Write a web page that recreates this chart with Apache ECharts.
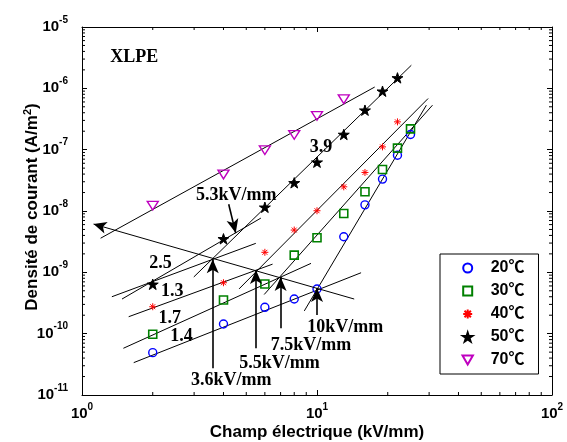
<!DOCTYPE html>
<html>
<head>
<meta charset="utf-8">
<script src="https://cdn.jsdelivr.net/npm/echarts@6/dist/echarts.min.js"></script>
<style>
  html, body { margin: 0; padding: 0; background: #fff; }
  #chart { width: 567px; height: 442px; }
</style>
</head>
<body>
<div id="chart"></div>
<script>
// Applied electric field (kV/mm)
const fieldKV = [2, 4, 6, 8, 10, 13, 16, 19, 22, 25];

// Measured current density (A/m^2) for each temperature
const j20 = [4.9e-11, 1.44e-10, 2.69e-10, 3.67e-10, 5.35e-10, 3.8e-9, 1.26e-8, 3.31e-8, 8.1e-8, 1.77e-7];
const j30 = [9.8e-11, 3.54e-10, 6.45e-10, 1.91e-9, 3.66e-9, 9.1e-9, 2.06e-8, 4.76e-8, 1.06e-7, 2.18e-7];
const j40 = [2.75e-10, 6.77e-10, 2.12e-9, 4.89e-9, 1.01e-8, 2.48e-8, 4.25e-8, 1.11e-7, 2.84e-7];
const j50 = [6.38e-10, 3.52e-9, 1.15e-8, 2.88e-8, 6.25e-8, 1.77e-7, 4.4e-7, 8.97e-7, 1.48e-6];
const j70 = [1.22e-8, 3.94e-8, 9.8e-8, 1.74e-7, 3.55e-7, 6.64e-7];

const tempLabels = ['20℃', '30℃', '40℃', '50℃', '70℃'];

// Power-law fits, each given by its two end points [field, density]
const fit70 = [[1.2, 3.6e-9], [17.6, 1.05e-6]];
const fit50High = [[2.99, 8.4e-10], [25.2, 2.38e-6]];
const fit50Low = [[1.48, 3.67e-10], [5.77, 7.66e-9]];
const fit50Ohmic = [[1.34, 4.0e-10], [5.49, 2.97e-9]];
const fit40Low = [[1.58, 1.89e-10], [6.47, 1.36e-9]];
const fit40High = [[4.66, 5.37e-10], [29.7, 6.82e-7]];
const fit30Low = [[1.5, 5.78e-11], [9.43, 1.4e-9]];
const fit30High = [[5.96, 4.35e-10], [31.0, 5.31e-7]];
const fit20Low = [[1.66, 3.37e-11], [15.4, 9.85e-10]];
const fit20High = [[8.83, 2.35e-10], [29.2, 5.31e-7]];

// Trend of the transition fields, drawn as an arrow
const transitionTrend = [[14.4, 3.67e-10], [1.12, 6.12e-9]];

// Arrows pointing at the transition fields: [start, tip]
const thresholdArrows = [
  [[3.6, 2.73e-11], [3.6, 1.63e-9]],
  [[5.5, 5.78e-11], [5.5, 1.09e-9]],
  [[7.0, 1.22e-10], [7.0, 8.4e-10]],
  [[10, 2.02e-10], [10, 5.55e-10]],
  [[4.21, 1.29e-8], [4.51, 4.36e-9]]
];

// Text annotations placed in data coordinates
const noteText = ['XLPE', '3.9', '5.3kV/mm', '2.5', '1.3', '1.7', '1.4', '3.6kV/mm', '5.5kV/mm', '7.5kV/mm', '10kV/mm'];
const noteX = [1.67, 10.4, 4.53, 2.16, 2.42, 2.36, 2.65, 4.32, 6.92, 9.43, 13.2];
const noteY = [3.21e-6, 1.11e-7, 1.82e-8, 1.42e-9, 4.83e-10, 1.8e-10, 8.93e-11, 1.76e-11, 3.3e-11, 6.38e-11, 1.25e-10];

// Minor tick positions inside each decade
const minorSteps = [2, 3, 4, 5, 6, 7, 8, 9];
const xDecades = [1, 10];
const yDecades = [1e-11, 1e-10, 1e-9, 1e-8, 1e-7, 1e-6];

const X_MIN = 1, X_MAX = 100, Y_MIN = 1e-11, Y_MAX = 1e-5;

const xMinorTicks = [];
xDecades.forEach(d => minorSteps.forEach(m => xMinorTicks.push(m * d)));
const yMinorTicks = [];
yDecades.forEach(d => minorSteps.forEach(m => yMinorTicks.push(m * d)));

const sansFont = '"Liberation Sans", Arial, "Noto Sans CJK SC", sans-serif';
const serifFont = '"Liberation Serif", "Times New Roman", serif';

const pairs = (ys) => ys.map((y, i) => [fieldKV[i], y]);

// Marker outlines
const squarePath = 'path://M-10,-10L10,-10L10,10L-10,10Z';
const asteriskPath = 'path://M-10,0L10,0M0,-10L0,10M-7.07,-7.07L7.07,7.07M-7.07,7.07L7.07,-7.07';
const starPath = 'path://M0,-100L22.5,-30.9L95.1,-30.9L36.3,11.8L58.8,80.9L0,38.2L-58.8,80.9L-36.3,11.8L-95.1,-30.9L-22.5,-30.9Z';
const triDownPath = 'path://M-10,-8.66L10,-8.66L0,8.66Z';

function powLabel(v) {
  return '{b|10}{s|' + Math.round(Math.log10(v)) + '}';
}
const tickRich = {
  b: { fontSize: 15, fontWeight: 'bold', fontFamily: sansFont, color: '#000' },
  s: { fontSize: 10, fontWeight: 'bold', fontFamily: sansFont, color: '#000', padding: [0, 0, 14, 0] }
};

function logAxis(min, max, position, showLabel, extra) {
  return Object.assign({
    type: 'log',
    logBase: 10,
    min: min,
    max: max,
    position: position,
    nameMoveOverlap: false,
    axisLine: { show: true, onZero: false, lineStyle: { color: '#000', width: 1 } },
    axisTick: { show: true, inside: true, length: 5, lineStyle: { color: '#000', width: 1 } },
    splitLine: { show: false },
    minorTick: { show: false },
    axisLabel: showLabel
      ? { show: true, formatter: powLabel, rich: tickRich, color: '#000' }
      : { show: false }
  }, extra || {});
}

function fitLine(points) {
  return {
    type: 'line',
    data: points,
    symbol: 'none',
    silent: true,
    z: 2,
    lineStyle: { color: '#000', width: 1 },
    animation: false
  };
}

function markerSeries(name, ys, symbol, size, fill, color, width) {
  return {
    name: name,
    type: 'scatter',
    data: pairs(ys),
    symbol: symbol,
    symbolSize: size,
    symbolKeepAspect: true,
    z: 4,
    itemStyle: { color: fill, borderColor: color, borderWidth: width, opacity: 1 }
  };
}

const chart = echarts.init(document.getElementById('chart'), null, { renderer: 'canvas' });

const option = {
  animation: false,
  backgroundColor: '#fff',
  grid: { left: 82, right: 15, top: 27, bottom: 47, outerBoundsMode: 'none', containLabel: false },
  legend: {
    data: tempLabels,
    orient: 'vertical',
    left: 440,
    top: 254,
    padding: [6, 14, 6, 20],
    itemWidth: 36,
    itemHeight: 9,
    itemGap: 7,
    selectedMode: false,
    backgroundColor: '#fff',
    borderColor: '#000',
    borderWidth: 1,
    borderRadius: 0,
    textStyle: { fontSize: 16, fontWeight: 'bold', fontFamily: sansFont, color: '#000' }
  },
  xAxis: [
    logAxis(X_MIN, X_MAX, 'bottom', true, {
      axisLabel: { show: true, formatter: powLabel, rich: tickRich, margin: 7 },
      name: 'Champ électrique (kV/mm)',
      nameLocation: 'middle',
      nameGap: 29,
      nameTextStyle: { fontSize: 17, fontWeight: 'bold', fontFamily: sansFont, color: '#000' }
    }),
    logAxis(X_MIN, X_MAX, 'top', false)
  ],
  yAxis: [
    logAxis(Y_MIN, Y_MAX, 'left', true, {
      axisLabel: { show: true, formatter: powLabel, rich: tickRich, margin: 14 },
      name: 'Densité de courant (A/m{s|2})',
      nameLocation: 'middle',
      nameGap: 39,
      nameTextStyle: {
        fontSize: 17, fontWeight: 'bold', fontFamily: sansFont, color: '#000',
        padding: [0, 0, 0, 8],
        rich: { s: { fontSize: 11, fontWeight: 'bold', fontFamily: sansFont, color: '#000', padding: [0, 0, 10, 0] } }
      }
    }),
    logAxis(Y_MIN, Y_MAX, 'right', false)
  ],
  series: [
    fitLine(fit70),
    fitLine(fit50High),
    fitLine(fit50Low),
    fitLine(fit50Ohmic),
    fitLine(fit40Low),
    fitLine(fit40High),
    fitLine(fit30Low),
    fitLine(fit30High),
    fitLine(fit20Low),
    fitLine(fit20High),
    {
      type: 'line',
      data: [],
      silent: true,
      z: 3,
      markLine: {
        silent: true,
        animation: false,
        symbol: ['none', 'arrow'],
        symbolSize: [9, 13],
        label: { show: false },
        lineStyle: { color: '#000', width: 1, type: 'solid' },
        data: [[{ coord: transitionTrend[0] }, { coord: transitionTrend[1] }]]
      }
    },
    {
      type: 'line',
      data: [],
      silent: true,
      z: 3,
      markLine: {
        silent: true,
        animation: false,
        symbol: ['none', 'arrow'],
        symbolSize: [9, 14],
        label: { show: false },
        lineStyle: { color: '#000', width: 1.6, type: 'solid' },
        data: thresholdArrows.map(a => [{ coord: a[0] }, { coord: a[1] }])
      }
    },
    markerSeries(tempLabels[0], j20, 'circle', 8, 'none', '#0000ff', 1.4),
    markerSeries(tempLabels[1], j30, squarePath, 8, 'none', '#008000', 1.6),
    markerSeries(tempLabels[2], j40, asteriskPath, 7, 'none', '#ff0000', 1),
    markerSeries(tempLabels[3], j50, starPath, 11, '#000000', '#000000', 1),
    markerSeries(tempLabels[4], j70, triDownPath, [11, 10], 'none', '#bf00bf', 1.4),
    {
      // text annotations
      type: 'custom',
      silent: true,
      z: 5,
      data: noteText.map((t, i) => [noteX[i], noteY[i], i]),
      renderItem: function (params, api) {
        const p = api.coord([api.value(0), api.value(1)]);
        return {
          type: 'text',
          x: p[0],
          y: p[1],
          style: {
            text: noteText[api.value(2)],
            align: 'center',
            verticalAlign: 'middle',
            fontFamily: serifFont,
            fontWeight: 'bold',
            fontSize: 18,
            fill: '#000'
          }
        };
      }
    },
    {
      // minor ticks on the bottom and top axes
      type: 'custom',
      silent: true,
      z: 1,
      data: xMinorTicks.map(v => [v, Y_MIN]),
      renderItem: function (params, api) {
        const p = api.coord([api.value(0), api.value(1)]);
        const cs = params.coordSys;
        const top = cs.y, bot = cs.y + cs.height;
        return {
          type: 'group',
          children: [
            { type: 'line', shape: { x1: p[0], y1: bot, x2: p[0], y2: bot - 3 }, style: { stroke: '#000', lineWidth: 1 } },
            { type: 'line', shape: { x1: p[0], y1: top, x2: p[0], y2: top + 3 }, style: { stroke: '#000', lineWidth: 1 } }
          ]
        };
      }
    },
    {
      // minor ticks on the left and right axes
      type: 'custom',
      silent: true,
      z: 1,
      data: yMinorTicks.map(v => [X_MIN, v]),
      renderItem: function (params, api) {
        const p = api.coord([api.value(0), api.value(1)]);
        const cs = params.coordSys;
        const left = cs.x, right = cs.x + cs.width;
        return {
          type: 'group',
          children: [
            { type: 'line', shape: { x1: left, y1: p[1], x2: left + 3, y2: p[1] }, style: { stroke: '#000', lineWidth: 1 } },
            { type: 'line', shape: { x1: right, y1: p[1], x2: right - 3, y2: p[1] }, style: { stroke: '#000', lineWidth: 1 } }
          ]
        };
      }
    }
  ]
};

chart.setOption(option);
</script>
</body>
</html>
